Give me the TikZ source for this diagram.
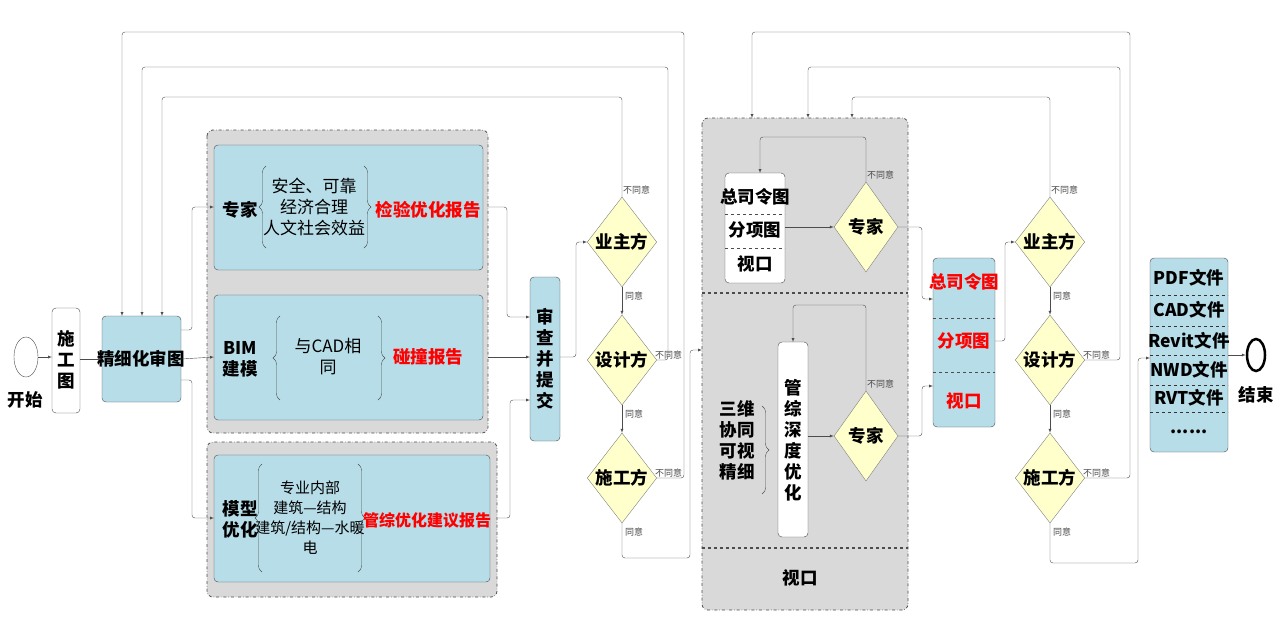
\documentclass[tikz,border=0pt]{standalone}
\usepackage{fontspec}
\setmainfont{Noto Sans CJK SC}
\usetikzlibrary{shapes.geometric, positioning, calc, decorations.pathreplacing}
\definecolor{boxblue}{HTML}{B7DDE8}
\definecolor{groupgray}{HTML}{D9D9D9}
\definecolor{dmdyellow}{HTML}{FFFFCC}

\begin{document}
\begin{tikzpicture}[
    x = 1pt, y = -1pt, > = latex,
    every node/.style = {font = \fontsize{17.5}{21}\selectfont\bfseries, align = center, inner sep = 0pt},
    group/.style = {draw = black!70, fill = groupgray, dash dot, thick, rounded corners = 6pt},
    task/.style = {draw = black!70, fill = boxblue, rounded corners = 4pt},
    plain/.style = {draw = black!70, fill = white, rounded corners = 4pt},
    check/.style = {diamond, draw = black!50, fill = dmdyellow, minimum width = 60pt, minimum height = 90pt, inner sep = 0pt},
    flow/.style = {->, draw = black!70, rounded corners = 3pt},
    note/.style = {font = \fontsize{9}{10}\selectfont, text = black!70},
    thin/.style = {font = \fontsize{17}{21}\selectfont},
    red/.style = {text = red},
    lbrace/.style = {decorate, decoration = {brace, amplitude = 7pt}, draw = black!70},
    ]
    \useasboundingbox (0,0) rectangle (1284,635);

    % left part
    \node [ellipse, draw = black!70, minimum width = 24pt, minimum height = 40pt] (start) at (26,357) {};
    \node (startlbl) at (25,400) {开始};
    \draw [plain] (52,308) rectangle (80,413);
    \node (sgt) at (66,360) {施\\工\\图};
    \draw [task] (102,316) rectangle (181,402);
    \node (jxh) at (141,359) {精细化审图};

    % groups with tasks
    \draw [group] (207,130) rectangle (488,433);
    \draw [group] (207,442) rectangle (497,597);
    \draw [task] (214,145) rectangle (483,270);
    \draw [task] (214,295) rectangle (483,420);
    \draw [task] (214,455) rectangle (490,582);
    \coordinate (t1in) at (214,207);
    \coordinate (t2in) at (214,357);
    \coordinate (t3in) at (214,518);
    \coordinate (t1out) at (488,207);
    \coordinate (t2out) at (488,357);
    \coordinate (t3out) at (497,518);

    \node (zj) at (240,210) {专家};
    \node [thin] (zjtxt) at (314,207) {安全、可靠\\经济合理\\人文社会效益};
    \draw [lbrace] (266,248) -- (266,166);
    \draw [lbrace] (364,166) -- (364,248);
    \node [red] (zjrep) at (428,210) {检验优化报告};

    \node (bim) at (240,359) {BIM\\建模};
    \node [thin] (bimtxt) at (328,357) {与CAD相\\同};
    \draw [lbrace] (280,400) -- (280,316);
    \draw [lbrace] (378,316) -- (378,400);
    \node [red] (bimrep) at (428,357) {碰撞报告};

    \node (mx) at (240,519) {模型\\优化};
    \node [thin, font = \fontsize{15}{20}\selectfont] (mxtxt) at (310,518) {专业内部\\建筑—结构\\建筑/结构—水暖\\电};
    \draw [lbrace] (262,572) -- (262,464);
    \draw [lbrace] (358,464) -- (358,572);
    \node [red, font = \fontsize{16}{20}\selectfont\bfseries] (mxrep) at (427,520) {管综优化建议报告};

    \draw [task] (530,277) rectangle (560,441);
    \node (scj) at (545,359) {审\\查\\并\\提\\交};
    \coordinate (scin1) at (530,317);
    \coordinate (scin2) at (530,357);
    \coordinate (scin3) at (530,400);
    \coordinate (scout) at (560,357);

    \node [check] (yz1) at (622,242) {业主方};
    \node [check] (sj1) at (622,360) {设计方};
    \node [check] (sg1) at (622,478) {施工方};

    % middle group
    \draw [group] (702,118) rectangle (908,610);
    \draw [dashed, very thick, black!70] (702,293) -- (908,293);
    \draw [dashed, very thick, black!70] (702,548) -- (908,548);
    \node (viewlbl) at (800,578) {视口};
    \coordinate (g3in) at (702,350);
    \draw [plain] (725,173) rectangle (785,283);
    \draw [dashed, black!70] (725,214) -- (785,214);
    \draw [dashed, black!70] (725,248) -- (785,248);
    \node (zslt) at (755,197) {总司令图};
    \node (fxt) at (755,230) {分项图};
    \node (sk) at (755,264) {视口};
    \coordinate (mapin) at (760,173);
    \coordinate (mapout) at (785,227);
    \draw [plain] (778,342) rectangle (808,537);
    \node (gz) at (793,440) {管\\综\\深\\度\\优\\化};
    \coordinate (gzin) at (793,342);
    \coordinate (gzout) at (808,436);
    \node (swxt) at (737,440) {三维\\协同\\可视\\精细};
    \draw [lbrace] (762,406) -- (762,494);
    \node [check, minimum width = 64pt] (zj2) at (866,227) {专家};
    \node [check, minimum width = 64pt] (zj3) at (866,436) {专家};

    % result box
    \draw [task] (933,258) rectangle (995,427);
    \draw [dashed, thick, black!70] (933,318) -- (995,318);
    \draw [dashed, thick, black!70] (933,372) -- (995,372);
    \node [red] (rzs) at (964,282) {总司令图};
    \node [red] (rfx) at (964,341) {分项图};
    \node [red] (rsk) at (964,401) {视口};
    \coordinate (resin1) at (933,299);
    \coordinate (resin2) at (933,386);
    \coordinate (resout) at (995,341);

    \node [check] (yz2) at (1050,242) {业主方};
    \node [check] (sj2) at (1050,360) {设计方};
    \node [check] (sg2) at (1050,478) {施工方};

    % files
    \draw [task] (1150,258) rectangle (1228,452);
    \foreach \yy in {295,326,355,385,412}
        \draw [dashed, thick, black!80] (1150,\yy) -- (1228,\yy);
    \node (pdf) at (1189,278) {PDF文件};
    \node (cad) at (1189,310) {CAD文件};
    \node (rvt) at (1189,341) {Revit文件};
    \node (nwd) at (1189,370) {NWD文件};
    \node (rvt2) at (1189,398) {RVT文件};
    \node (more) at (1189,432) {......};
    \coordinate (filein) at (1150,358);
    \coordinate (fileout) at (1228,355);
    \node [ellipse, draw, line width = 2.5pt, minimum width = 18pt, minimum height = 32pt] (finish) at (1256,355) {};
    \node (finishlbl) at (1256,395) {结束};

    % paths
    \draw [flow] (start) -- (52,357);
    \draw [flow] (80,359) -- (102,359);
    \draw [flow] (181,330) -| (192,207) -- (t1in);
    \draw [flow] (181,359) -- (t2in);
    \draw [flow] (181,380) -| (192,518) -- (t3in);
    \draw [flow] (t1out) -| (507,317) -- (scin1);
    \draw [flow] (t2out) -- (scin2);
    \draw [flow] (t3out) -| (510,400) -- (scin3);
    \draw [flow] (scout) -| (576,242) -- (yz1.west);
    \draw [flow] (yz1.south) -- (sj1.north);
    \draw [flow] (sj1.south) -- (sg1.north);
    \draw [flow] (yz1.north) |- (162,97) -- (162,316);
    \draw [flow] (sj1.east) -| (668,67) -| (142,316);
    \draw [flow] (sg1.east) -| (684,32) -| (122,316);
    \draw [flow] (sg1.south) |- (690,558) |- (g3in);
    \draw [flow] (zj2.north) |- (760,137) -- (mapin);
    \draw [flow] (mapout) -- (zj2.west);
    \draw [flow] (zj3.north) |- (793,305) -- (gzin);
    \draw [flow] (gzout) -- (zj3.west);
    \draw [flow] (zj2.east) -| (922,299) -- (resin1);
    \draw [flow] (zj3.east) -| (922,386) -- (resin2);
    \draw [flow] (resout) -| (1005,242) -- (yz2.west);
    \draw [flow] (yz2.south) -- (sj2.north);
    \draw [flow] (sj2.south) -- (sg2.north);
    \draw [flow] (yz2.north) |- (852,97) -- (852,118);
    \draw [flow] (sj2.east) -| (1120,67) -| (808,118);
    \draw [flow] (sg2.east) -| (1130,32) -| (752,118);
    \draw [flow] (sg2.south) |- (1138,563) |- (filein);
    \draw [flow] (fileout) -- (finish.west);

    % decision labels
    \foreach \d in {yz1,yz2,zj2,zj3}
        \node [note, anchor = south west] at ($(\d.north)+(1,-2)$) {不同意};
    \foreach \d in {sj1,sg1,sj2,sg2}
        \node [note, anchor = south west] at ($(\d.east)+(-2,-1)$) {不同意};
    \foreach \d in {yz1,sj1,sg1,yz2,sj2,sg2}
        \node [note, anchor = north west] at ($(\d.south)+(3,4)$) {同意};
\end{tikzpicture}
\end{document}
